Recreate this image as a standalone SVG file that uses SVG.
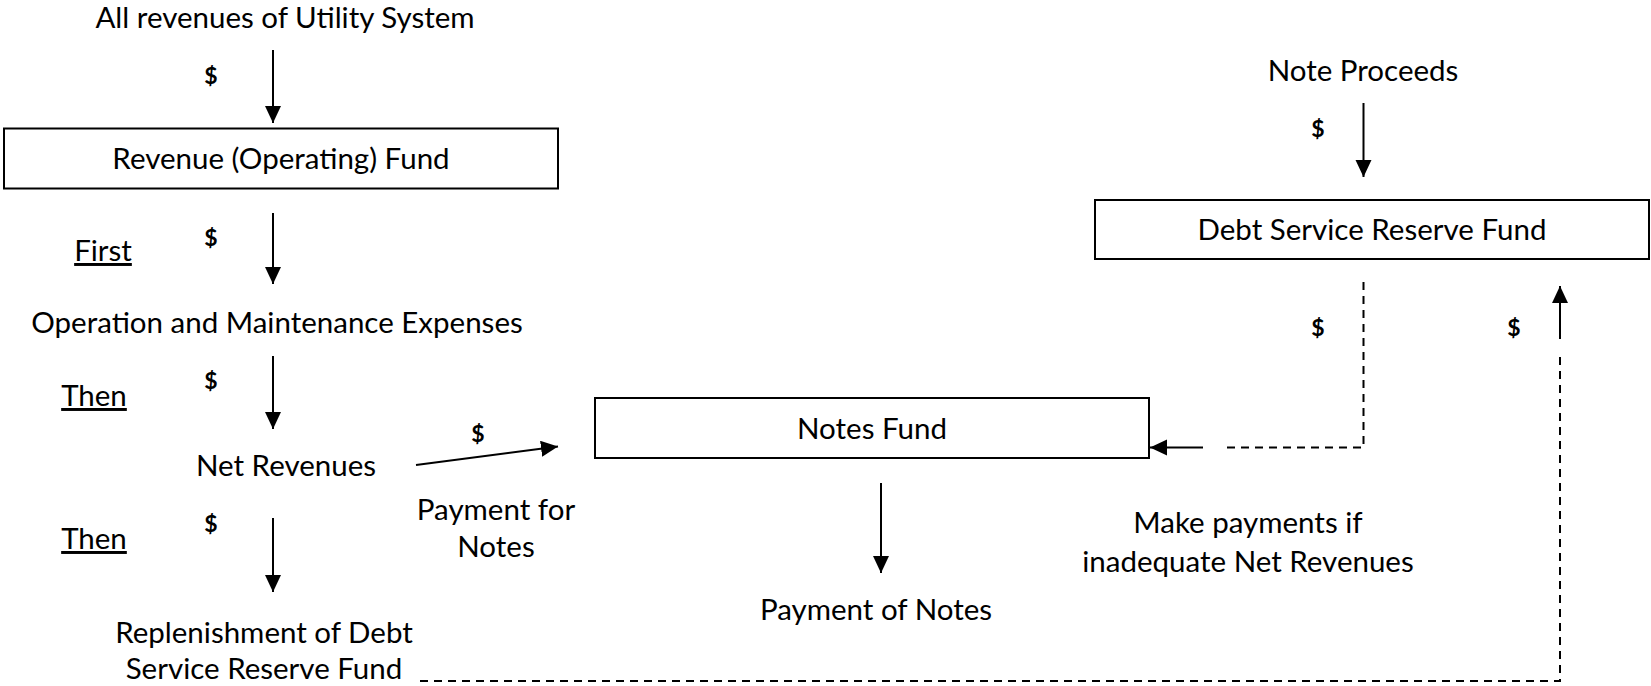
<svg xmlns="http://www.w3.org/2000/svg" width="1651" height="686" viewBox="0 0 1651 686">
<style>
.t{font-family:Lato,"Liberation Sans",sans-serif;font-size:29.5px;fill:#000;text-anchor:middle}
.d{font-family:Lato,"Liberation Sans",sans-serif;font-size:23px;font-weight:bold;fill:#000;text-anchor:middle}
.u{text-decoration:underline}
.box{fill:#fff;stroke:#000;stroke-width:2}
.c{stroke:#000;stroke-width:2;fill:none}
.dash{stroke-dasharray:8 6}
</style>
<defs>
<marker id="ah" markerUnits="userSpaceOnUse" markerWidth="18" markerHeight="18" refX="17" refY="8" orient="auto">
<path d="M0,0 L17,8 L0,16 Z" fill="#000"/>
</marker>
</defs>
<g id="labels">
<text class="t" x="285" y="28">All revenues of Utility System</text>
<text class="d" x="211" y="84">$</text>
<text class="d" x="211" y="246">$</text>
<text class="t u" x="103" y="261">First</text>
<text class="t" x="277" y="333">Operation and Maintenance Expenses</text>
<text class="d" x="211" y="389">$</text>
<text class="t u" x="94" y="406">Then</text>
<text class="t" x="286" y="476">Net Revenues</text>
<text class="d" x="478" y="442">$</text>
<text class="t" x="496" y="520">Payment for</text>
<text class="t" x="496" y="557">Notes</text>
<text class="d" x="211" y="532">$</text>
<text class="t u" x="94" y="549">Then</text>
<text class="t" x="264" y="643">Replenishment of Debt</text>
<text class="t" x="264" y="679">Service Reserve Fund</text>
<text class="t" x="1363" y="81">Note Proceeds</text>
<text class="d" x="1318" y="137">$</text>
<text class="d" x="1318" y="336">$</text>
<text class="d" x="1514" y="336">$</text>
<text class="t" x="876" y="620">Payment of Notes</text>
<text class="t" x="1248" y="533">Make payments if</text>
<text class="t" x="1248" y="572">inadequate Net Revenues</text>
</g>
<g id="revenue-fund">
<rect class="box" x="4" y="128.5" width="554" height="60"/>
<text class="t" x="281" y="169">Revenue (Operating) Fund</text>
</g>
<g id="notes-fund">
<rect class="box" x="595" y="398" width="554" height="60"/>
<text class="t" x="872" y="439">Notes Fund</text>
</g>
<g id="dsrf">
<rect class="box" x="1095" y="200" width="554" height="59"/>
<text class="t" x="1372" y="240">Debt Service Reserve Fund</text>
</g>
<g id="connectors">
<line class="c" x1="273" y1="50" x2="273" y2="123" marker-end="url(#ah)"/>
<line class="c" x1="273" y1="213" x2="273" y2="284" marker-end="url(#ah)"/>
<line class="c" x1="273" y1="356" x2="273" y2="429" marker-end="url(#ah)"/>
<line class="c" x1="273" y1="518" x2="273" y2="592" marker-end="url(#ah)"/>
<line class="c" x1="416" y1="465" x2="558" y2="446.5" marker-end="url(#ah)"/>
<line class="c" x1="881" y1="483" x2="881" y2="573" marker-end="url(#ah)"/>
<line class="c" x1="1363.5" y1="103" x2="1363.5" y2="177" marker-end="url(#ah)"/>
<path class="c dash" d="M1363.5,282 V447.5 H1224"/>
<line class="c" x1="1203" y1="447.5" x2="1150" y2="447.5" marker-end="url(#ah)"/>
<path class="c dash" d="M420,681 H1560 V352"/>
<line class="c" x1="1560" y1="339" x2="1560" y2="286" marker-end="url(#ah)"/>
</g>
</svg>
